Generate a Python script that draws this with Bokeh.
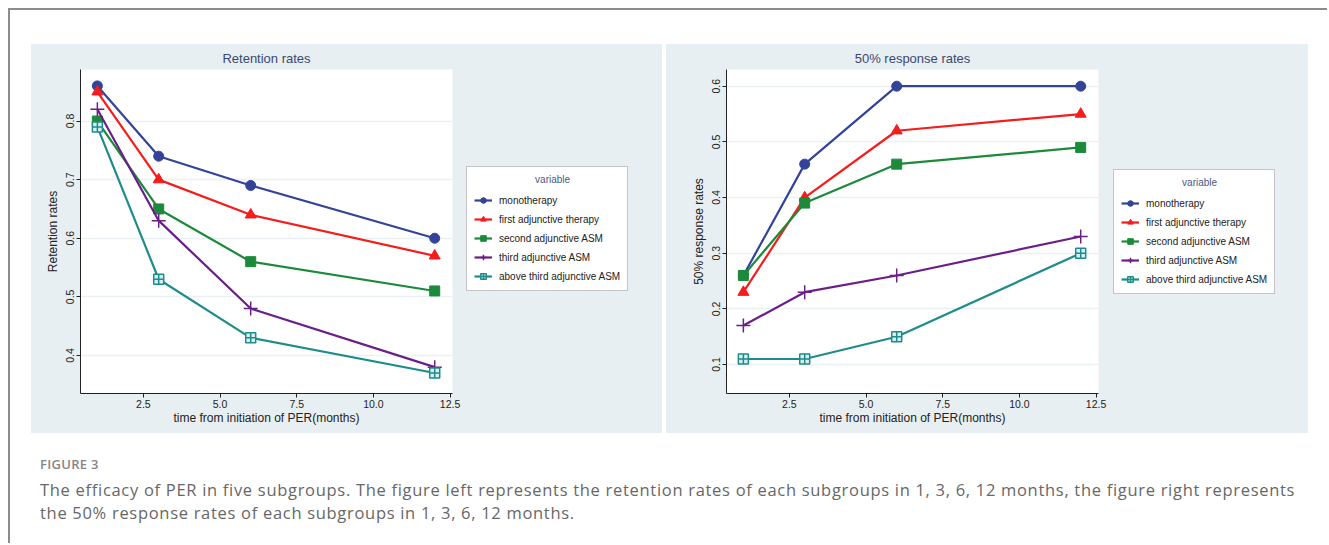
from bokeh.plotting import figure
from bokeh.layouts import row, column
from bokeh.models import FixedTicker, Legend, LegendItem, NumeralTickFormatter, Div
from bokeh.embed import file_html
from bokeh.resources import INLINE

months = [1, 3, 6, 12]
series_names = ["monotherapy", "first adjunctive therapy", "second adjunctive ASM",
                "third adjunctive ASM", "above third adjunctive ASM"]

retention_mono = [0.86, 0.74, 0.69, 0.60]
retention_first = [0.85, 0.70, 0.64, 0.57]
retention_second = [0.80, 0.65, 0.56, 0.51]
retention_third = [0.82, 0.63, 0.48, 0.38]
retention_above = [0.79, 0.53, 0.43, 0.37]

response_mono = [0.26, 0.46, 0.60, 0.60]
response_first = [0.23, 0.40, 0.52, 0.55]
response_second = [0.26, 0.39, 0.46, 0.49]
response_third = [0.17, 0.23, 0.26, 0.33]
response_above = [0.11, 0.11, 0.15, 0.30]

x_ticks = [2.5, 5.0, 7.5, 10.0, 12.5]
retention_ticks = [0.4, 0.5, 0.6, 0.7, 0.8]
response_ticks = [0.1, 0.2, 0.3, 0.4, 0.5, 0.6]

colors = ["#34439a", "#f51c1c", "#1c8a3a", "#6a1f88", "#1f8c8c"]
markers = ["circle", "triangle", "square", "cross", "square_cross"]
fills = ["#34439a", "#f51c1c", "#1c8a3a", "#6a1f88", "#d8eeee"]
sizes = [10, 11, 10, 14, 10]
legend_sizes = [8, 9, 8, 12, 8]

PANEL = "#e8eff2"
FONT = "Liberation Sans"


def marker_style(m):
    return 1.5 if m in ("cross", "square_cross") else 1


def make_plot(title, ylabel, data, ticks, yr, width, left):
    p = figure(width=width, height=389, x_range=(0.45, 12.58), y_range=yr,
               output_backend="svg", toolbar_location=None,
               min_border_left=left, min_border_right=10,
               min_border_top=24, min_border_bottom=40)
    p.border_fill_color = PANEL
    p.background_fill_color = "white"
    p.outline_line_color = None
    p.title.text = title
    p.title.align = "center"
    p.title.text_font = FONT
    p.title.text_font_style = "normal"
    p.title.text_font_size = "13px"
    p.title.text_color = "#3c4770"
    p.title.standoff = 8
    p.xaxis.ticker = FixedTicker(ticks=x_ticks)
    p.yaxis.ticker = FixedTicker(ticks=ticks)
    p.xaxis.formatter = NumeralTickFormatter(format="0.0")
    p.yaxis.formatter = NumeralTickFormatter(format="0.0")
    p.yaxis.major_label_orientation = "vertical"
    for ax in (p.xaxis, p.yaxis):
        ax.minor_tick_line_color = None
        ax.major_tick_in = 0
        ax.major_tick_out = 4
        ax.major_label_standoff = 2
        ax.axis_line_color = "#222222"
        ax.major_tick_line_color = "#222222"
        ax.major_label_text_font = FONT
        ax.major_label_text_font_size = "10.5px"
        ax.major_label_text_color = "#222222"
        ax.axis_label_text_font = FONT
        ax.axis_label_text_font_size = "12px"
        ax.axis_label_text_font_style = "normal"
        ax.axis_label_text_color = "#222222"
    p.xaxis.axis_label = "time from initiation of PER(months)"
    p.yaxis.axis_label = ylabel
    p.xaxis.axis_label_standoff = 0
    p.yaxis.axis_label_standoff = 4
    p.xgrid.grid_line_color = None
    p.ygrid.grid_line_color = "#eaf1f4"
    p.ygrid.grid_line_width = 1.5

    for vals, c, m, f, s in zip(data, colors, markers, fills, sizes):
        p.line(months, vals, line_color=c, line_width=2.2)
        p.scatter(months, vals, marker=m, size=s, line_color=c, fill_color=f,
                  line_width=marker_style(m))
    return p


def make_legend_fig(width, data, lx, ly):
    # the legend sits in its own panel; its renderers hold the series but lie outside the view
    lf = figure(width=width, height=389, x_range=(100, 101), y_range=(100, 101),
                x_axis_type=None, y_axis_type=None,
                output_backend="svg", toolbar_location=None,
                min_border_left=0, min_border_right=0, min_border_top=0, min_border_bottom=0)
    lf.border_fill_color = PANEL
    lf.background_fill_color = PANEL
    lf.outline_line_color = None
    lf.xgrid.grid_line_color = None
    lf.ygrid.grid_line_color = None
    items = []
    for name, vals, c, m, f, s in zip(series_names, data, colors, markers, fills, legend_sizes):
        ln = lf.line(months, vals, line_color=c, line_width=2.2)
        sc = lf.scatter(months, vals, marker=m, size=s, line_color=c, fill_color=f,
                        line_width=marker_style(m))
        items.append(LegendItem(label=name, renderers=[ln, sc]))
    leg = Legend(items=items, location=(lx, ly), title="\u00a0" * 22 + "variable")
    leg.title_text_font = FONT
    leg.title_text_font_size = "10px"
    leg.title_text_font_style = "normal"
    leg.title_text_color = "#4a5788"
    leg.title_standoff = 8
    leg.label_text_font = FONT
    leg.label_text_font_size = "10px"
    leg.label_text_color = "#222222"
    leg.label_height = 14
    leg.label_standoff = 7
    leg.glyph_height = 14
    leg.glyph_width = 18
    leg.spacing = 5
    leg.padding = 7
    leg.margin = 0
    leg.border_line_color = "#8a8a8a"
    leg.border_line_width = 1
    leg.background_fill_color = "white"
    leg.background_fill_alpha = 1.0
    lf.add_layout(leg, "center")
    return lf


retention = [retention_mono, retention_first, retention_second, retention_third, retention_above]
response = [response_mono, response_first, response_second, response_third, response_above]

p1 = make_plot("Retention rates", "Retention rates", retention,
               retention_ticks, (0.335, 0.888), 431, 49)
l1 = make_legend_fig(200, retention, 4, 102)
p2 = make_plot("50% response rates", "50% response rates", response,
               response_ticks, (0.048, 0.63), 442, 60)
l2 = make_legend_fig(200, response, 5, 99)

charts = row(row(p1, l1, spacing=0, styles={"background-color": PANEL}),
             row(p2, l2, spacing=0, styles={"background-color": PANEL}),
             spacing=4, margin=(34, 0, 0, 21))

caption = Div(
    text=('<div style="font-family: \'Open Sans\', sans-serif;">'
          '<div style="font-size:13px; font-weight:600; color:#858585; letter-spacing:0.3px; margin-bottom:4px;">FIGURE 3</div>'
          '<div style="font-size:16.5px; line-height:23px; color:#676767; letter-spacing:0.7px; white-space:nowrap;">'
          'The efficacy of PER in five subgroups. The figure left represents the retention rates of each '
          'subgroups in 1, 3, 6, 12 months, the figure right represents<br>the 50% response rates of each '
          'subgroups in 1, 3, 6, 12 months.</div></div>'),
    width=1280, margin=(22, 0, 0, 30))

layout = column(charts, caption,
                styles={"border-top": "2px solid #8c8c8c", "border-left": "2px solid #8c8c8c",
                        "background-color": "white"},
                width=1319, height=535, margin=(8, 0, 0, 8))

open("out.html", "w").write(file_html(layout, INLINE))
